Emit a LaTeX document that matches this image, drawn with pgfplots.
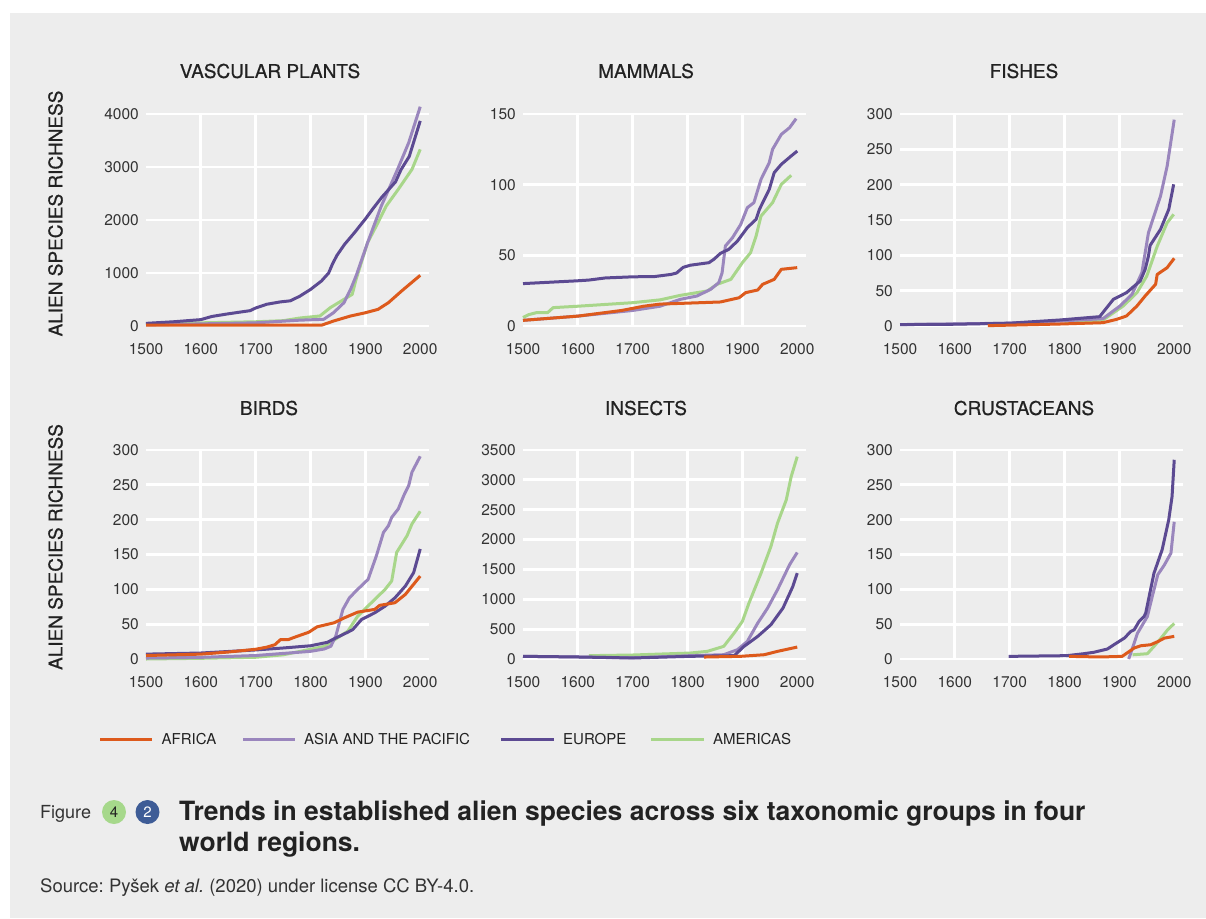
\documentclass[border=0pt]{standalone}
\usepackage{pgfplots}
\pgfplotsset{compat=1.18}
\usepackage{fontspec}
\setmainfont{TeX Gyre Heros}
\newfontfamily\medfont[FakeBold=0.7]{TeX Gyre Heros}

\definecolor{bgc}{HTML}{EDEDED}
\definecolor{africa}{HTML}{DD5A1C}
\definecolor{asia}{HTML}{9A86BD}
\definecolor{europe}{HTML}{5C4A92}
\definecolor{americas}{HTML}{A8D68A}
\definecolor{tickc}{HTML}{333333}
\definecolor{titc}{HTML}{222222}
\definecolor{badgeg}{HTML}{A6D88B}
\definecolor{badgeb}{HTML}{3E5C96}

% one panel of the 2x3 grid, 1pt = 1px of the reference
\pgfplotsset{
  panel/.style={
    scale only axis, width=283pt, anchor=south west,
    xmin=1500, xmax=2016, ymin=0, clip=false,
    axis line style={draw=none}, tick style={draw=none},
    xtick={1500,1600,...,2000},
    extra x ticks={1600,1700,1800,1900}, extra x tick labels={},
    extra x tick style={grid=major},
    ymajorgrids,
    major grid style={white, line width=2.8pt},
    tick label style={font=\fontsize{15.5}{16}\selectfont, text=tickc},
    xticklabel style={inner sep=0pt, yshift=-17pt},
    yticklabel style={inner sep=0pt, xshift=-7pt},
    /pgf/number format/1000 sep={},
    /pgf/number format/assume math mode=true,
    every axis plot/.append style={line width=3pt, line join=round},
  },
  af/.style={africa}, as/.style={asia}, eu/.style={europe}, am/.style={americas},
}

\begin{document}
\frenchspacing
\begin{tikzpicture}
\useasboundingbox (0pt,0pt) rectangle (1206pt,-918pt);
\fill[white] (0pt,0pt) rectangle (1206pt,-918pt);
\fill[bgc] (10pt,-13pt) rectangle (1206pt,-918pt);

% ---- vascular plants
\begin{axis}[panel, at={(146pt,-326pt)}, height=212pt, ymax=4000, ytick={0,1000,...,4000}]
\addplot[am] coordinates {(1500,40)(1550,50)(1600,60)(1650,70)(1700,80)(1750,100)(1780,150)(1817,189)(1836,346)(1861,503)(1876,597)(1883,880)(1904,1572)(1923,1950)(1938,2264)(1960,2579)(1985,2956)(2000,3333)};
\addplot[as] coordinates {(1500,20)(1600,40)(1700,60)(1780,110)(1824,126)(1842,252)(1861,440)(1873,692)(1883,943)(1904,1572)(1929,2264)(1948,2704)(1960,2987)(1979,3459)(2000,4138)};
\addplot[eu] coordinates {(1500,50)(1550,80)(1600,120)(1620,180)(1650,230)(1690,290)(1700,340)(1720,410)(1745,455)(1763,475)(1780,560)(1800,690)(1820,850)(1833,1000)(1840,1170)(1848,1330)(1862,1540)(1880,1760)(1900,2020)(1915,2230)(1930,2430)(1955,2720)(1965,2950)(1980,3200)(2000,3870)};
\addplot[af] coordinates {(1500,15)(1820,15)(1842,94)(1873,189)(1900,250)(1923,314)(1942,440)(1966,660)(2000,956)};
\end{axis}

% ---- mammals
\begin{axis}[panel, at={(523pt,-326pt)}, height=212pt, ymax=150, ytick={0,50,100,150}]
\addplot[am] coordinates {(1500,6)(1510,8)(1525,9.5)(1545,9.5)(1555,13)(1600,14)(1700,16.5)(1750,18.5)(1787,21.7)(1836,24.8)(1854,29.5)(1879,33)(1900,44.8)(1915,51.9)(1925,63.7)(1934,77.8)(1955,87.3)(1971,100.2)(1989,106.6)};
\addplot[as] coordinates {(1500,4)(1600,7)(1700,11)(1750,14)(1787,18.9)(1817,21.2)(1842,25.9)(1857,30.7)(1863,37.7)(1869,56.6)(1882,62.5)(1897,71.9)(1909,83.7)(1921,87.3)(1934,103.8)(1949,115.6)(1955,125)(1971,135.6)(1986,140.3)(1998,146.7)};
\addplot[eu] coordinates {(1500,30)(1600,32)(1620,32.5)(1650,34)(1700,34.8)(1740,35)(1770,36.5)(1780,37.5)(1792,41.5)(1805,43)(1839,44.8)(1848,47.2)(1860,51.4)(1875,54.2)(1891,60.1)(1909,69.6)(1925,75.5)(1931,82.5)(1949,96.7)(1958,108.5)(1971,114.4)(1989,120.3)(2000,123.8)};
\addplot[af] coordinates {(1500,4)(1600,7)(1680,11)(1720,14)(1750,15.5)(1787,16)(1860,17)(1894,20)(1906,23.6)(1928,25.5)(1937,29.5)(1958,33)(1971,40.1)(2000,41.3)};
\end{axis}

% ---- fishes
\begin{axis}[panel, at={(900pt,-326pt)}, height=212pt, ymax=300, ytick={0,50,...,300}]
\addplot[am] coordinates {(1800,5)(1870,8.5)(1907,28.3)(1932,47.2)(1950,70.8)(1969,113)(1987,146)(1999,158)};
\addplot[as] coordinates {(1500,2)(1700,4)(1791,7)(1870,10.4)(1901,28.3)(1923,44.8)(1941,75.5)(1953,132)(1975,184)(1987,226)(2000,292)};
\addplot[eu] coordinates {(1500,2)(1600,2.5)(1700,4)(1791,8.5)(1864,13.2)(1877,26)(1889,37.7)(1913,47.2)(1938,63.7)(1947,80.2)(1953,99)(1956,114)(1975,136.8)(1990,165)(1999,200.5)};
\addplot[af] coordinates {(1660,0.5)(1791,2.8)(1870,4.7)(1895,9.4)(1913,14.2)(1932,28.3)(1947,42.5)(1966,59)(1969,73)(1987,82.5)(2000,95.8)};
\end{axis}

% ---- birds
\begin{axis}[panel, at={(146pt,-659pt)}, height=209pt, ymax=300, ytick={0,50,...,300}]
\addplot[am] coordinates {(1500,0)(1600,1)(1700,2.5)(1750,6)(1800,14)(1825,18)(1868,40)(1886,61.5)(1911,80.8)(1936,100)(1948,112)(1957,153)(1976,177)(1985,194)(2000,212)};
\addplot[as] coordinates {(1500,1.4)(1600,2.4)(1700,5)(1750,8)(1800,11)(1825,14.4)(1837,18.3)(1846,32.7)(1859,71.2)(1871,88)(1886,100)(1905,114.4)(1920,148)(1933,181.7)(1942,191.3)(1948,203.3)(1960,215.4)(1970,234.6)(1979,249)(1985,268.3)(2000,291)};
\addplot[eu] coordinates {(1500,7)(1600,8.6)(1700,13)(1750,15.8)(1800,19)(1831,24)(1840,27.9)(1868,38.5)(1877,42.3)(1893,56.7)(1917,66.3)(1936,75.9)(1954,87.9)(1973,104.8)(1988,124)(2000,158)};
\addplot[af] coordinates {(1500,5)(1600,7)(1650,10)(1700,14)(1720,17)(1735,20.5)(1745,27.7)(1760,28)(1770,31)(1797,38.5)(1812,46.2)(1843,52)(1862,59.2)(1886,67.3)(1917,71.2)(1926,77)(1954,80.8)(1973,92.8)(2000,119)};
\end{axis}

% ---- insects
\begin{axis}[panel, at={(523pt,-659pt)}, height=209pt, ymax=3500, ytick={0,500,...,3500}]
\addplot[am] coordinates {(1620,56)(1700,67)(1805,100)(1836,128)(1866,212)(1885,435)(1900,630)(1912,936)(1934,1438)(1952,1884)(1964,2274)(1980,2665)(1989,3055)(2000,3389)};
\addplot[as] coordinates {(1500,45)(1600,34)(1700,20)(1805,56)(1866,72)(1891,156)(1909,295)(1928,602)(1946,853)(1964,1160)(1986,1578)(2000,1784)};
\addplot[eu] coordinates {(1500,45)(1600,34)(1700,17)(1805,45)(1885,56)(1903,212)(1928,379)(1952,574)(1974,853)(1992,1215)(2000,1438)};
\addplot[af] coordinates {(1830,33)(1897,45)(1940,72)(1964,128)(2000,200)};
\end{axis}

% ---- crustaceans
\begin{axis}[panel, at={(900pt,-659pt)}, height=209pt, ymax=300, ytick={0,50,...,300}]
\addplot[am] coordinates {(1924,6)(1951,7.6)(1963,18)(1976,30)(1988,42)(2000,51)};
\addplot[as] coordinates {(1917,0)(1927,23)(1933,37)(1951,61)(1960,90)(1970,121)(1982,135)(1994,152)(2000,197)};
\addplot[eu] coordinates {(1698,3.8)(1804,4.8)(1835,7.6)(1853,9.6)(1878,14.3)(1890,20.5)(1909,30)(1921,39.7)(1927,42)(1936,54)(1945,61)(1948,66)(1963,123)(1978,157)(1990,200)(1996,233)(2000,286)};
\addplot[af] coordinates {(1808,3.8)(1866,2.9)(1905,3.8)(1912,7.6)(1927,15.8)(1939,19)(1957,20.5)(1970,25)(1982,30)(2000,32.5)};
\end{axis}

% ---- panel titles and y labels
\begin{scope}[every node/.style={text=titc, font=\medfont\fontsize{19}{20}\selectfont}]
\node at (270pt,-71pt) {VASCULAR PLANTS};
\node at (646pt,-71pt) {MAMMALS};
\node at (1024pt,-71pt) {FISHES};
\node at (269pt,-408pt) {BIRDS};
\node at (646pt,-408pt) {INSECTS};
\node at (1024pt,-408pt) {CRUSTACEANS};
\node[rotate=90] at (55.5pt,-213.5pt) {ALIEN SPECIES RICHNESS};
\node[rotate=90] at (55.5pt,-547pt) {ALIEN SPECIES RICHNESS};
\end{scope}

% ---- legend
\begin{scope}[every node/.style={anchor=west, inner sep=0pt, text=titc, font=\fontsize{15}{16}\selectfont}]
\draw[africa, line width=3pt] (100pt,-739pt) -- (152pt,-739pt);
\node at (161.5pt,-739pt) {AFRICA};
\draw[asia, line width=3pt] (243pt,-739pt) -- (295pt,-739pt);
\node at (304pt,-739pt) {ASIA AND THE PACIFIC};
\draw[europe, line width=3pt] (501pt,-739pt) -- (554pt,-739pt);
\node at (563pt,-739pt) {EUROPE};
\draw[americas, line width=3pt] (651pt,-739pt) -- (704pt,-739pt);
\node at (713pt,-739pt) {AMERICAS};
\end{scope}

% ---- caption
\node[anchor=base west, inner sep=0pt, text=tickc, font=\fontsize{18}{20}\selectfont] at (40pt,-818pt) {Figure};
\fill[badgeg] (114pt,-812pt) circle (12pt);
\node[text=titc, font=\fontsize{15}{16}\selectfont] at (114pt,-812pt) {4};
\fill[badgeb] (147.5pt,-812pt) circle (12pt);
\node[text=white, font=\fontsize{15}{16}\selectfont] at (147.5pt,-812pt) {2};
\node[anchor=base west, inner sep=0pt, text=titc, font=\fontsize{26.5}{30}\selectfont\bfseries] at (179pt,-820pt) {Trends in established alien species across six taxonomic groups in four};
\node[anchor=base west, inner sep=0pt, text=titc, font=\fontsize{26.5}{30}\selectfont\bfseries] at (179pt,-851.7pt) {world regions.};
\node[anchor=base west, inner sep=0pt, text=tickc, font=\fontsize{18.5}{20}\selectfont] at (40pt,-892.7pt) {Source: Pyšek \textit{et al.} (2020) under license CC BY-4.0.};
\end{tikzpicture}
\end{document}
